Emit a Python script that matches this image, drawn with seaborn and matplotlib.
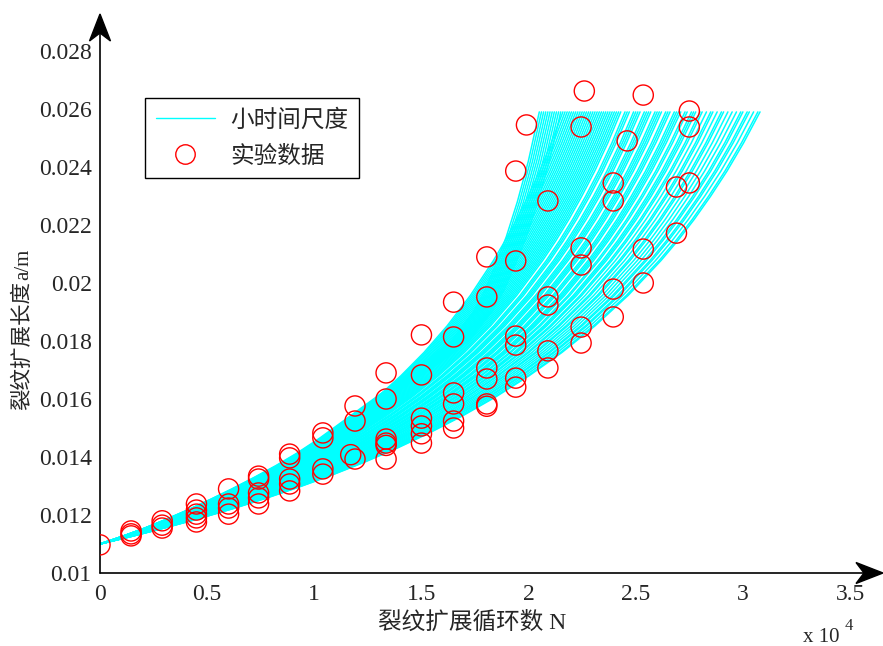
import numpy as np
import pandas as pd
import matplotlib
matplotlib.use("Agg")
import matplotlib.pyplot as plt
from matplotlib.patches import Polygon
from matplotlib.lines import Line2D
import seaborn as sns

# ---------------- data (N in units of 1e4 cycles) ----------------
exp_N = [0.0,
         0.145, 0.145, 0.145,
         0.29, 0.29, 0.29,
         0.45, 0.45, 0.45, 0.45, 0.45,
         0.6, 0.6, 0.6, 0.6,
         0.74, 0.74, 0.74, 0.74, 0.74,
         0.885, 0.885, 0.885, 0.885, 0.885,
         1.04, 1.04, 1.04, 1.04,
         1.19, 1.19, 1.17, 1.19,
         1.335, 1.335, 1.335, 1.335, 1.335, 1.335,
         1.5, 1.5, 1.5, 1.5, 1.5, 1.5,
         1.65, 1.65, 1.65, 1.65, 1.65, 1.65,
         1.805, 1.805, 1.805, 1.805, 1.805, 1.805,
         1.94, 1.94, 1.94, 1.94, 1.94, 1.94,
         1.99,
         2.09, 2.09, 2.09, 2.09, 2.09,
         2.245, 2.245, 2.245, 2.245, 2.245,
         2.26,
         2.395, 2.395, 2.395, 2.395,
         2.46,
         2.535, 2.535, 2.535,
         2.69, 2.69,
         2.75, 2.75, 2.75]
exp_a = [0.01097,
         0.01145, 0.01135, 0.01128,
         0.0118, 0.01165, 0.01155,
         0.01238, 0.01217, 0.01203, 0.0119, 0.01176,
         0.0129, 0.01238, 0.01224, 0.01203,
         0.01334, 0.01324, 0.01276, 0.01259, 0.01238,
         0.0141, 0.01397, 0.01324, 0.01307, 0.01283,
         0.01483, 0.01466, 0.01359, 0.01341,
         0.01576, 0.01524, 0.01408, 0.01393,
         0.0169, 0.0160, 0.01462, 0.01448, 0.0144, 0.01393,
         0.01821, 0.01683, 0.01534, 0.01507, 0.0148, 0.01448,
         0.01934, 0.01814, 0.01621, 0.01583, 0.01524, 0.0150,
         0.0209, 0.01952, 0.01707, 0.01669, 0.01583, 0.01575,
         0.02386, 0.02076, 0.01817, 0.01786, 0.01672, 0.01641,
         0.02545,
         0.02283, 0.01952, 0.01924, 0.01766, 0.01707,
         0.02538, 0.02121, 0.02062, 0.01848, 0.01793,
         0.02662,
         0.02345, 0.02283, 0.01979, 0.01883,
         0.0249,
         0.02648, 0.02117, 0.0200,
         0.02331, 0.02172,
         0.02593, 0.02538, 0.02345]

# simulated curves: each reaches the cut-off crack length at its own life
life_ends = [2.05, 2.06, 2.07, 2.08, 2.09, 2.10, 2.11, 2.12, 2.13, 2.14,
             2.15, 2.16, 2.17, 2.18, 2.19, 2.20, 2.21, 2.22, 2.23,
             2.24, 2.25, 2.26, 2.27, 2.28, 2.29, 2.30, 2.31, 2.32, 2.33,
             2.34, 2.35, 2.36, 2.37, 2.38, 2.39, 2.40, 2.41, 2.42, 2.43,
             2.45, 2.46, 2.47, 2.49, 2.50, 2.51, 2.52, 2.54, 2.55, 2.56,
             2.57, 2.59, 2.60, 2.61, 2.62, 2.64, 2.65, 2.66, 2.68, 2.69,
             2.70, 2.71, 2.73, 2.74, 2.76, 2.77, 2.78, 2.80, 2.81, 2.83,
             2.85, 2.86, 2.88, 2.90, 2.91, 2.93, 2.95, 2.97, 2.99, 3.00,
             3.02, 3.03, 3.05, 3.07, 3.08]
# which crack-length profile each curve follows (0 = regular, 1 = late burst)
curve_profile = [1] * 11 + [0] * (len(life_ends) - 11)

# crack-length profiles (fraction of life -> a)
life_frac = [0.0, 0.05, 0.10, 0.15, 0.20, 0.25, 0.30, 0.35, 0.40, 0.45, 0.50,
             0.55, 0.60, 0.65, 0.70, 0.75, 0.80, 0.85, 0.875, 0.90, 0.925,
             0.95, 0.975, 1.0]
profile_regular = [0.01100, 0.011273, 0.011565, 0.011876, 0.012208, 0.012565,
                   0.012950, 0.013364, 0.013814, 0.014303, 0.014840, 0.015427,
                   0.016078, 0.016800, 0.017607, 0.018523, 0.019569, 0.020776,
                   0.021450, 0.022186, 0.022990, 0.023862, 0.024830, 0.02590]
profile_burst = [0.01100, 0.011260, 0.011540, 0.011850, 0.012180, 0.012530,
                 0.012900, 0.013290, 0.013700, 0.014150, 0.014650, 0.015200,
                 0.015750, 0.016300, 0.016850, 0.017400, 0.018000, 0.019000,
                 0.019700, 0.020600, 0.021600, 0.022800, 0.024200, 0.02590]
profiles = [profile_regular, profile_burst]

y_ticks = [0.010, 0.012, 0.014, 0.016, 0.018, 0.020, 0.022, 0.024, 0.026, 0.028]
y_tick_labels = ['0.01', '0.012', '0.014', '0.016', '0.018', '0.02',
                 '0.022', '0.024', '0.026', '0.028']
x_ticks = [0, 0.5, 1, 1.5, 2, 2.5, 3, 3.5]
x_tick_labels = ['0', '0.5', '1', '1.5', '2', '2.5', '3', '3.5']

# long-form table of curves
rows = []
for cid, (L, p) in enumerate(zip(life_ends, curve_profile)):
    for f, a in zip(life_frac, profiles[p]):
        rows.append((cid, L * f, a))
curves = pd.DataFrame(rows, columns=['curve', 'N', 'a'])
exp_df = pd.DataFrame({'N': exp_N, 'a': exp_a})

# ---------------- styling ----------------
sns.set_style('white')
serif = ['Liberation Serif', 'Noto Sans CJK SC']
cjk = ['Noto Sans CJK SC', 'Liberation Serif']
plt.rcParams['font.family'] = serif
plt.rcParams['axes.unicode_minus'] = False

W, H = 883, 646
fig = plt.figure(figsize=(W / 100, H / 100), dpi=100)
ax = fig.add_axes([100 / W, 73 / H, 782 / W, 558 / H])

sns.lineplot(data=curves, x='N', y='a', units='curve', estimator=None,
             sort=False, color='#00FFFF', lw=1.1, legend=False, ax=ax)
sns.scatterplot(data=exp_df, x='N', y='a', marker='o', s=14.5 ** 2,
                facecolors='none', edgecolors='red', linewidth=1.0,
                legend=False, ax=ax, zorder=3)

ax.set_xlim(0, 782 / 214.3)
ax.set_ylim(0.01, 0.01 + 558 / 29000)
ax.set_xticks(x_ticks)
ax.set_xticklabels(x_tick_labels)
ax.set_yticks(y_ticks)
ax.set_yticklabels(y_tick_labels)
ax.tick_params(direction='in', length=6, width=1, color='black',
               labelsize=17, pad=6)
ax.tick_params(axis='x', pad=8)
ax.set_xlabel('')
ax.set_ylabel('')
for s in ax.spines.values():
    s.set_visible(False)

# axis lines with arrow heads
ax.plot([0, 0], [0, 0.985], transform=ax.transAxes, color='black', lw=1.2,
        clip_on=False)
ax.plot([0, 0.985], [0, 0], transform=ax.transAxes, color='black', lw=1.2,
        clip_on=False)
def px(x, y):
    return (x / W, 1 - y / H)
fig.patches.append(Polygon([px(100, 14), px(89.5, 41), px(100, 33), px(110.5, 41)],
                           closed=True, transform=fig.transFigure,
                           facecolor='black', edgecolor='black'))
fig.patches.append(Polygon([px(883, 573), px(856, 562.5), px(864, 573), px(856, 583.5)],
                           closed=True, transform=fig.transFigure,
                           facecolor='black', edgecolor='black'))

# labels (CJK falls back to Noto Sans CJK, Latin stays serif)
fig.text(472 / W, 1 - 623 / H, '裂纹扩展循环数 N', ha='center', va='center',
         fontsize=17, family=serif)
fig.text(22 / W, 1 - 346 / H, '裂纹扩展长度', ha='center', va='center',
         rotation=90, fontsize=15.5, family=cjk)
fig.text(24 / W, 1 - 264 / H, 'a/m', ha='center', va='center',
         rotation=90, fontsize=15, family=serif)
fig.text(803 / W, 1 - 638 / H, 'x 10', ha='left', va='center', fontsize=15,
         family=serif)
fig.text(845 / W, 1 - 626 / H, '4', ha='left', va='center', fontsize=12,
         family=serif)

handles = [Line2D([], [], color='#00FFFF', lw=1.0),
           Line2D([], [], marker='o', ls='none', markersize=14,
                  markerfacecolor='none', markeredgecolor='red', mew=1.0)]
leg = ax.legend(handles, ['小时间尺度', '实验数据'], loc='upper left',
                bbox_to_anchor=((145 - 100) / 782, (573 - 98) / 558),
                borderaxespad=0, frameon=True, fancybox=False,
                edgecolor='black', framealpha=1, handlelength=2.5,
                handletextpad=0.65, labelspacing=0.55, borderpad=0.45,
                prop={'family': cjk, 'size': 17})
leg.get_frame().set_linewidth(1.0)

fig.savefig('out.png', dpi=100)
